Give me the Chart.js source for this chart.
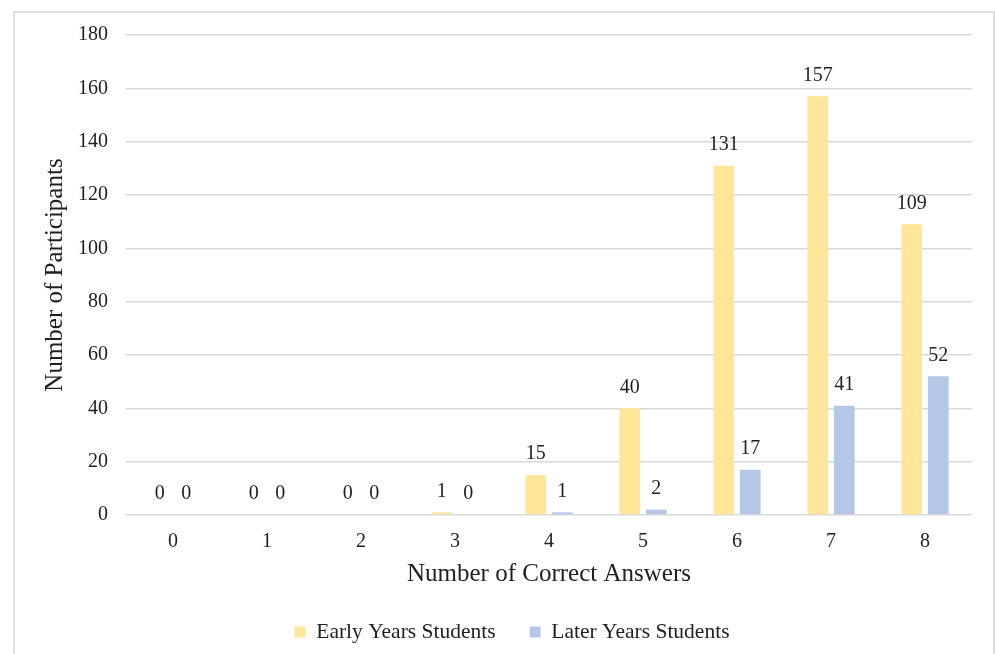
<!DOCTYPE html>
<html>
<head>
<meta charset="utf-8">
<script src="https://cdn.jsdelivr.net/npm/chart.js@4/dist/chart.umd.min.js"></script>
<style>
  html, body { margin: 0; padding: 0; background: #fff; overflow: hidden; }
  #frame { position: absolute; left: 13px; top: 11px; width: 982px; height: 660px;
           border: 2px solid #dedede; box-sizing: border-box; }
  #c { position: absolute; left: 0; top: 0; }
</style>
</head>
<body>
<div id="frame"></div>
<canvas id="c" width="995" height="654"></canvas>
<script>
// Number of correct answers (0–8) and participant counts per group
const categories = ['0', '1', '2', '3', '4', '5', '6', '7', '8'];
const earlyYears = [0, 0, 0, 1, 15, 40, 131, 157, 109];
const laterYears = [0, 0, 0, 0, 1, 2, 17, 41, 52];
const seriesNames = ['Early Years Students', 'Later Years Students'];
const yTicks = { min: 0, max: 180, step: 20 };

const FONT = "'Liberation Serif', 'Times New Roman', serif";
const TEXT = '#1f1f1f';

// Writes each bar's value just above it
const valueLabels = {
  id: 'valueLabels',
  afterDatasetsDraw(chart) {
    const ctx = chart.ctx;
    ctx.save();
    ctx.font = '20px ' + FONT;
    ctx.fillStyle = TEXT;
    ctx.textAlign = 'center';
    ctx.textBaseline = 'middle';
    chart.data.datasets.forEach((ds, i) => {
      chart.getDatasetMeta(i).data.forEach((bar, j) => {
        ctx.fillText(String(ds.data[j]), bar.x, bar.y - 21);
      });
    });
    ctx.restore();
  }
};

// Centres the legend under the plot area rather than the whole canvas
const legendShift = {
  id: 'legendShift',
  afterLayout(chart) {
    const lg = chart.legend;
    if (!lg) return;
    lg.left += 26;
    lg.right += 26;
  }
};

new Chart(document.getElementById('c'), {
  type: 'bar',
  data: {
    labels: categories,
    datasets: [
      { label: seriesNames[0], data: earlyYears, backgroundColor: '#FFE699',
        categoryPercentage: 0.565, barPercentage: 0.78 },
      { label: seriesNames[1], data: laterYears, backgroundColor: '#B4C7E7',
        categoryPercentage: 0.565, barPercentage: 0.78 }
    ]
  },
  options: {
    responsive: false,
    animation: false,
    devicePixelRatio: 1,
    layout: { padding: { top: 35, right: 23, bottom: 1.25, left: 0 } },
    plugins: {
      tooltip: { enabled: false },
      legend: {
        position: 'bottom',
        labels: {
          font: { family: FONT, size: 21.5 },
          color: TEXT,
          boxWidth: 11,
          boxHeight: 11,
          padding: 34
        }
      }
    },
    scales: {
      x: {
        grid: { display: false },
        border: { display: false },
        ticks: { font: { family: FONT, size: 20 }, color: TEXT, padding: 7 },
        title: {
          display: true,
          text: 'Number of Correct Answers',
          font: { family: FONT, size: 25, lineHeight: 1 },
          color: TEXT,
          padding: { top: 0, bottom: 0 }
        },
        afterFit(scale) { scale.height = 72.25; }
      },
      y: {
        min: yTicks.min,
        max: yTicks.max,
        ticks: { stepSize: yTicks.step, font: { family: FONT, size: 20 }, color: TEXT, padding: 18 },
        grid: { color: '#d9d9d9', lineWidth: 1.5, drawTicks: false },
        border: { display: false },
        title: {
          display: true,
          text: 'Number of Participants',
          font: { family: FONT, size: 25 },
          color: TEXT,
          padding: { top: 40, bottom: 0 }
        },
        afterFit(scale) { scale.width = 126; }
      }
    }
  },
  plugins: [valueLabels, legendShift]
});
</script>
</body>
</html>
